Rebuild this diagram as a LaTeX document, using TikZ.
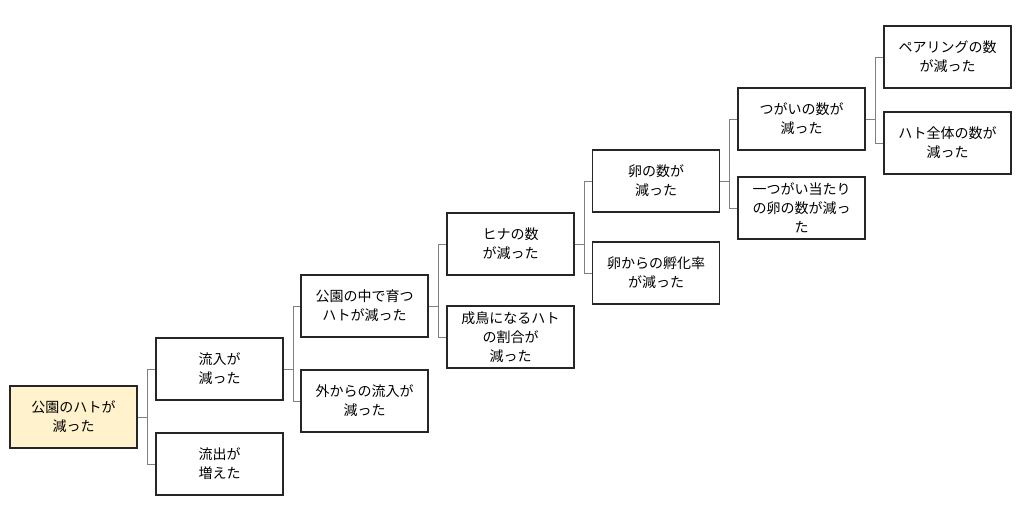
\documentclass[tikz,border=0pt]{standalone}
\usepackage{fontspec}
\setmainfont{Noto Sans CJK JP}
\usetikzlibrary{positioning}

\definecolor{rootyellow}{HTML}{FFF2CC}
\tikzset{
  box/.style={draw=black!85, line width=1.3pt, fill=white, minimum width=127pt,
    minimum height=62pt, align=center, inner sep=2pt,
    font=\fontsize{14}{19}\selectfont},
  rootbox/.style={box, fill=rootyellow},
  conn/.style={draw=gray, line width=0.9pt}
}

\begin{document}
\begin{tikzpicture}[x=1pt, y=-1pt]
        % Khung
        \useasboundingbox (0,0) rectangle (1024,530);

        % Các hộp
        \node[rootbox] (root) at (73.5,417) {公園のハトが\\減った};
        \node[box] (inflow) at (219.5,369) {流入が\\減った};
        \node[box] (outflow) at (219.5,464) {流出が\\増えた};
        \node[box] (grow) at (364.5,306) {公園の中で育つ\\ハトが減った};
        \node[box] (outside) at (364.5,401) {外からの流入が\\減った};
        \node[box] (chick) at (510.5,244) {ヒナの数\\が減った};
        \node[box] (adult) at (510.5,337) {成鳥になるハト\\の割合が\\減った};
        \node[box] (egg) at (656,181) {卵の数が\\減った};
        \node[box] (hatch) at (656,273) {卵からの孵化率\\が減った};
        \node[box] (pair) at (801.5,119) {つがいの数が\\減った};
        \node[box] (perpair) at (801.5,208) {一つがい当たり\\の卵の数が減っ\\た};
        \node[box] (pairing) at (947.5,57) {ペアリングの数\\が減った};
        \node[box] (total) at (947.5,143) {ハト全体の数が\\減った};

        % Đường nối
        \foreach \p/\c in {root/inflow, root/outflow, inflow/grow, inflow/outside,
            grow/chick, grow/adult, chick/egg, chick/hatch, egg/pair, egg/perpair,
            pair/pairing, pair/total} {
            \draw[conn] (\p.east) -- ++(9.5,0) |- (\c.west);
        }
\end{tikzpicture}
\end{document}
